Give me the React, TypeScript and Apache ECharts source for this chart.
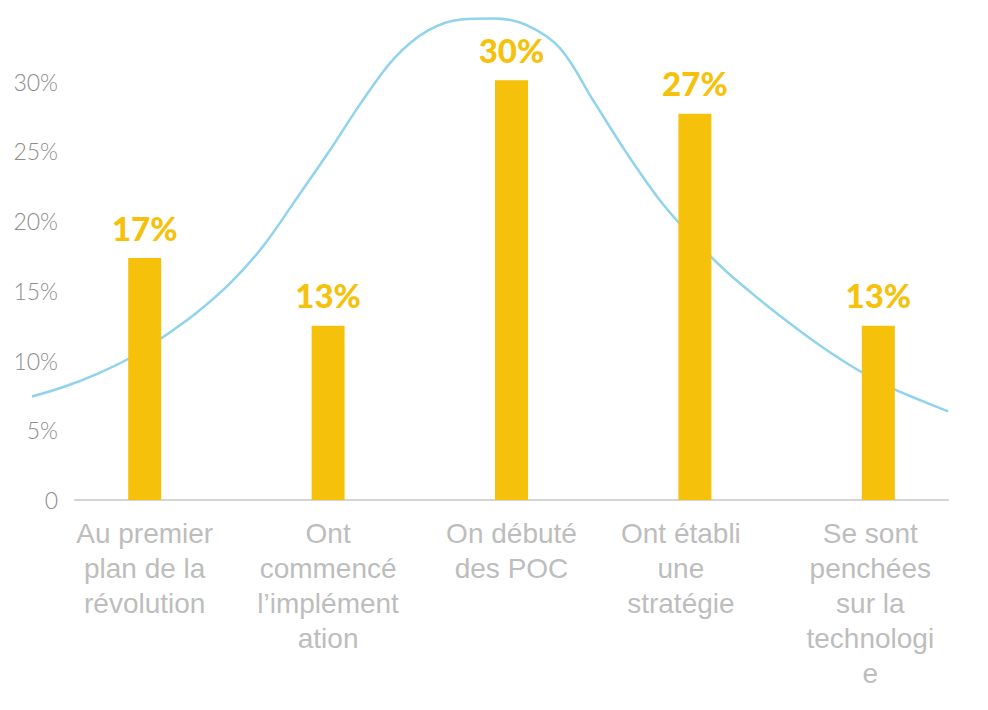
import React, { useEffect, useRef } from "react";
import * as echarts from "echarts";

const categories = [
  "Au premier\nplan de la\nrévolution",
  "Ont\ncommencé\nl’implément\nation",
  "On débuté\ndes POC",
  "Ont établi\nune\nstratégie",
  "Se sont\npenchées\nsur la\ntechnologi\ne",
];
const barValues = [17.35, 12.5, 30.1, 27.7, 12.5];
const barLabels = ["17%", "13%", "30%", "27%", "13%"];
const yTicks = [0, 5, 10, 15, 20, 25, 30];

// bell curve: x in category units (0 = first bar), y in %
const curveX = [
  -0.613, -0.434, -0.254, -0.074, 0.106, 0.286, 0.466, 0.646, 0.826, 1.006,
  1.186, 1.366, 1.546, 1.726, 1.906, 2.086, 2.266, 2.446, 2.626, 2.806, 2.986,
  3.166, 3.346, 3.526, 3.706, 3.885, 4.065, 4.245, 4.381,
];
const curveY = [
  7.42, 8.14, 9.07, 10.22, 11.73, 13.45, 15.53, 18.19, 21.56, 24.99, 28.59,
  31.74, 33.68, 34.47, 34.54, 34.04, 32.39, 28.66, 24.93, 21.56, 18.83, 16.46,
  14.45, 12.59, 10.87, 9.36, 8.07, 7.07, 6.35,
];
const labelPadRight = [0, 0, 0, 28, 16];

export default function App() {
  const ref = useRef<HTMLDivElement>(null);
  useEffect(() => {
    if (!ref.current) return;
    const chart = echarts.init(ref.current, undefined, { renderer: "svg" });
    const yMax = 35;
    chart.setOption({
      animation: false,
      backgroundColor: "#ffffff",
      grid: [
        { left: 53, right: 18, top: 12, bottom: 210, containLabel: false },
        { left: 75, right: 40, top: 12, bottom: 210, containLabel: false },
        { left: 32, right: 18, top: 12, bottom: 210, containLabel: false },
      ],
      xAxis: [
        {
          type: "category",
          gridIndex: 0,
          data: categories.map((c, i) => ({
            value: c,
            textStyle: { padding: [0, labelPadRight[i], 0, 0] },
          })),
          axisLine: { show: false },
          axisTick: { show: false },
          axisLabel: {
            interval: 0,
            margin: 16,
            color: "#bdbdbd",
            fontFamily: "Liberation Sans, Arial, sans-serif",
            fontSize: 28,
            lineHeight: 35,
            align: "center",
          },
        },
        {
          type: "value",
          gridIndex: 1,
          min: 0,
          max: 1,
          axisLine: { show: true, lineStyle: { color: "#d4d4d4", width: 2 } },
          axisTick: { show: false },
          axisLabel: { show: false },
          splitLine: { show: false },
        },
        {
          type: "value",
          gridIndex: 2,
          min: -0.613,
          max: 4.5,
          show: false,
          splitLine: { show: false },
        },
      ],
      yAxis: [
        {
          type: "value",
          gridIndex: 0,
          min: 0,
          max: yMax,
          interval: 5,
          show: false,
          splitLine: { show: false },
        },
        {
          type: "value",
          gridIndex: 1,
          min: 0,
          max: yMax,
          interval: 5,
          axisLine: { show: false },
          axisTick: { show: false },
          splitLine: { show: false },
          axisLabel: {
            margin: 17,
            color: "#8c8c8c",
            fontFamily: "Lato, sans-serif",
            fontWeight: 300,
            fontSize: 23,
            formatter: (v: number) =>
              yTicks.includes(v) ? (v === 0 ? "0" : v + "%") : "",
          },
        },
        {
          type: "value",
          gridIndex: 2,
          min: 0,
          max: yMax,
          interval: 5,
          show: false,
          splitLine: { show: false },
        },
      ],
      series: [
        {
          type: "line",
          xAxisIndex: 2,
          yAxisIndex: 2,
          data: curveX.map((x, i) => [x, curveY[i]]),
          smooth: 0.35,
          clip: false,
          showSymbol: false,
          symbol: "none",
          lineStyle: { color: "#90d3ed", width: 2.5 },
          z: 1,
        },
        {
          type: "bar",
          xAxisIndex: 0,
          yAxisIndex: 0,
          data: barValues,
          barWidth: 33,
          itemStyle: { color: "#F6C10A" },
          z: 2,
          label: {
            show: true,
            position: "top",
            distance: 14,
            formatter: (p: any) => barLabels[p.dataIndex],
            color: "#F6C10A",
            fontFamily: "Lato, sans-serif",
            fontWeight: 900,
            fontSize: 33,
          },
        },
      ],
    });
    return () => chart.dispose();
  }, []);
  return (
    <div
      ref={ref}
      style={{ position: "fixed", left: 0, top: 0, width: 988, height: 710 }}
    />
  );
}
